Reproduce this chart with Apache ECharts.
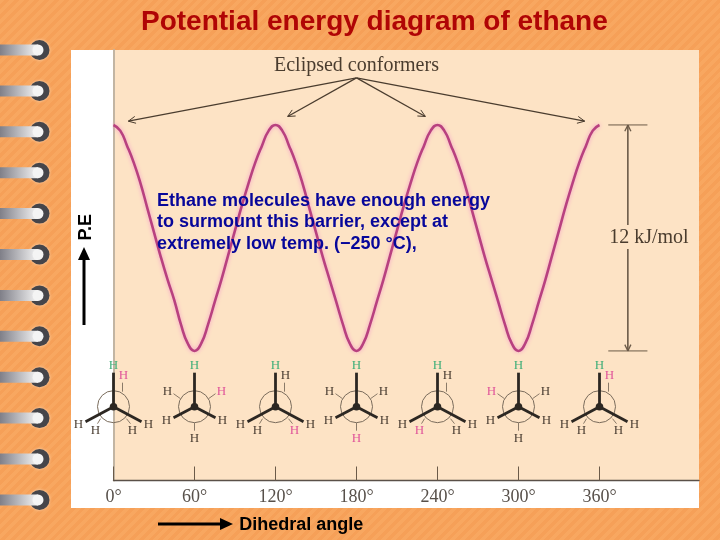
<!DOCTYPE html>
<html><head><meta charset="utf-8">
<style>
html,body{margin:0;padding:0;width:720px;height:540px;overflow:hidden;
background:repeating-linear-gradient(135deg,#f8a760 0,#f8a760 3.5px,#f6a058 3.5px,#f6a058 7px);}
#c{width:720px;height:540px;}
</style>
<script src="https://cdn.jsdelivr.net/npm/echarts@6/dist/echarts.min.js"></script>
</head><body><div id="c"></div>
<script>
// ---- data ----
const angles = [0,5,10,15,20,25,30,35,40,45,50,55,60,65,70,75,80,85,90,95,100,105,110,115,120,125,130,135,140,145,150,155,160,165,170,175,180,185,190,195,200,205,210,215,220,225,230,235,240,245,250,255,260,265,270,275,280,285,290,295,300,305,310,315,320,325,330,335,340,345,350,355,360];
const energy = [12,11.7,10.9,10,8.9,7.6,6.3,5,3.8,2.7,1.4,0.4,0,0.4,1.4,2.6,3.8,5.1,6.4,7.7,8.9,10,10.9,11.7,12,11.7,10.9,10,8.9,7.6,6.3,5,3.8,2.6,1.4,0.4,0,0.4,1.4,2.6,3.8,5.1,6.4,7.7,8.9,10,10.9,11.7,12,11.7,10.9,10,8.9,7.6,6.3,5,3.8,2.6,1.4,0.4,0,0.4,1.4,2.6,3.8,5.1,6.4,7.7,8.9,10,10.9,11.7,12];
const tickAngles = [0,60,120,180,240,300,360];
const conformerAngles = [0,60,120,180,240,300,360];
const conformerEnergy = -2.96;
const pinkBackH = [0,1,2,3,4,5,0];
const eclipsedTargets = [[11,12.2],[129,12.45],[231,12.45],[349,12.2]];
const eclipsedApex = [180,14.5];
const barrier = 12;
const barrierAngle = 381;
const titleText = 'Potential energy diagram of ethane';
const noteText = 'Ethane molecules have enough energy\nto surmount this barrier, except at\nextremely low temp. (\u2212250 \u00b0C),';
const ringCount = 12;

const INK='#4a3c2e', SERIF='"Liberation Serif","DejaVu Serif",serif';

function arrowShape(p,q,head,lw,col,both){
  const out=[{type:'line',shape:{x1:p[0],y1:p[1],x2:q[0],y2:q[1]},style:{stroke:col,lineWidth:lw}}];
  const barbs=(a,b)=>{const t=Math.atan2(a[1]-b[1],a[0]-b[0]);
    [0.45,-0.45].forEach(d=>out.push({type:'line',shape:{x1:b[0],y1:b[1],x2:b[0]+head*Math.cos(t+d),y2:b[1]+head*Math.sin(t+d)},style:{stroke:col,lineWidth:Math.max(1,lw-0.3)}}));};
  barbs(p,q); if(both) barbs(q,p);
  return out;
}

function newman(params,api){
  const angle=api.value(0), c=api.coord([angle,api.value(1)]), pink=api.value(2);
  const eclipsed=pink===0||pink===2||pink===4;
  const kids=[];
  const hLabel=(x,y,col)=>kids.push({type:'text',style:{text:'H',x:c[0]+x,y:c[1]+y,fill:col,align:'center',verticalAlign:'middle',font:'13px '+SERIF}});
  const thin=(x1,y1,x2,y2)=>kids.push({type:'line',shape:{x1:c[0]+x1,y1:c[1]+y1,x2:c[0]+x2,y2:c[1]+y2},style:{stroke:'#8a7a68',lineWidth:1}});
  kids.push({type:'circle',shape:{cx:c[0],cy:c[1],r:16},style:{fill:'none',stroke:'#7a6c5c',lineWidth:1}});
  if(eclipsed){
    const pos=[[10,-31],[19,24],[-18,24]];
    const col=i=>(pink===0&&i===0)||(pink===2&&i===1)||(pink===4&&i===2)?'#e0559a':'#4a3e32';
    pos.forEach((p,i)=>hLabel(p[0],p[1],col(i)));
    thin(9,-15,9,-24); thin(13,12,17,17); thin(-13,12,-16,17);
  }else{
    const pos=[[27,-15,1],[0,32,3],[-27,-15,5]];
    pos.forEach(p=>hLabel(p[0],p[1],p[2]===pink?'#e0559a':'#4a3e32'));
    thin(14,-8,21,-13); thin(0,16,0,24); thin(-14,-8,-21,-13);
  }
  const bx=eclipsed?28:21, by=eclipsed?15:11;
  [[0,-34],[bx,by],[-bx,by]].forEach(e=>kids.push({type:'line',shape:{x1:c[0],y1:c[1],x2:c[0]+e[0],y2:c[1]+e[1]},style:{stroke:'#2c2722',lineWidth:2.8}}));
  kids.push({type:'circle',shape:{cx:c[0],cy:c[1],r:3.8},style:{fill:'#2c2722'}});
  hLabel(0,-41,'#3fae78');
  hLabel(-(bx+7),by+3,'#4a3e32'); hLabel(bx+7,by+3,'#4a3e32');
  return {type:'group',children:kids};
}

function annotations(params,api){
  const kids=[];
  const a=api.coord(eclipsedApex);
  eclipsedTargets.forEach(t=>kids.push(...arrowShape(a,api.coord(t),8,1.2,INK,false)));
  const top=api.coord([barrierAngle,barrier]), bot=api.coord([barrierAngle,0]);
  kids.push(...arrowShape(top,bot,7,1.6,'#6b5a48',true));
  [barrier,0].forEach(v=>{const l=api.coord([barrierAngle-14.5,v]),r=api.coord([barrierAngle+14.5,v]);
    kids.push({type:'line',shape:{x1:l[0],y1:l[1],x2:r[0],y2:r[1]},style:{stroke:'#6b5a48',lineWidth:1}});});
  const mid=api.coord([barrierAngle,barrier*0.5]);
  kids.push({type:'rect',shape:{x:mid[0]-20,y:mid[1]-13,width:40,height:24},style:{fill:'#fde3c5'}});
  kids.push({type:'text',style:{text:'12 kJ/mol',x:mid[0]+21,y:mid[1],fill:INK,align:'center',verticalAlign:'middle',font:'20px '+SERIF}});
  return {type:'group',children:kids};
}

const rings=[];
for(let i=0;i<ringCount;i++){
  const y=50+i*40.9;
  rings.push({type:'circle',z:-1,shape:{cx:39.5,cy:y,r:10},style:{fill:'#45454a',shadowColor:'#fbd8b8',shadowBlur:3}});
  rings.push({type:'rect',z:-1,shape:{x:0,y:y-5.5,width:38,height:11},style:{fill:{type:'linear',x:0,y:0,x2:1,y2:0,colorStops:[{offset:0,color:'#7f7f88'},{offset:1,color:'#f4f4f4'}]}}});
  rings.push({type:'circle',z:-1,shape:{cx:38,cy:y,r:5.5},style:{fill:'#f4f4f4'}});
}

const chart=echarts.init(document.getElementById('c'),null,{renderer:'canvas'});
chart.setOption({
  animation:false,backgroundColor:'transparent',
  title:[
    {text:titleText,left:141,top:8,padding:0,textStyle:{fontFamily:'"Liberation Sans",Arial,sans-serif',fontWeight:'bold',fontSize:28,color:'#b00505'}},
    {text:noteText,left:157,top:190,padding:0,z:8,textStyle:{fontFamily:'"Liberation Sans",Arial,sans-serif',fontWeight:'bold',fontSize:18,lineHeight:21.5,color:'#07079a'}},
    {text:'Eclipsed conformers',left:274,top:56,padding:0,textStyle:{fontFamily:SERIF,fontWeight:'normal',fontSize:20,color:INK}}
  ],
  grid:{left:113.5,right:21,top:50,bottom:59.5,show:true,backgroundColor:'#fde3c5',borderWidth:0},
  xAxis:{type:'value',min:0,max:433.7,
    name:'Dihedral angle',nameLocation:'middle',nameGap:36,
    nameTextStyle:{fontFamily:'"Liberation Sans",Arial,sans-serif',fontWeight:'bold',fontSize:18,color:'#000',padding:[0,210,0,0]},
    axisLine:{show:true,onZero:false,lineStyle:{color:'#5a5048',width:1.4}},
    axisTick:{show:true,inside:true,length:14,customValues:tickAngles,lineStyle:{color:'#6b5a48',width:1}},
    axisLabel:{customValues:tickAngles,margin:8,formatter:v=>v+'\u00b0',fontFamily:SERIF,fontSize:18,color:'#57504a',showMaxLabel:true,showMinLabel:true},
    splitLine:{show:false}},
  yAxis:{type:'value',min:-6.88,max:15.98,
    name:'P.E',nameLocation:'middle',nameRotate:90,nameGap:18.5,
    nameTextStyle:{fontFamily:'"Liberation Sans",Arial,sans-serif',fontWeight:'bold',fontSize:18,color:'#000',padding:[0,0,0,76]},
    axisLine:{show:true,onZero:false,lineStyle:{color:'#c2b5a3',width:2}},
    axisTick:{show:false},axisLabel:{show:false},splitLine:{show:false}},
  graphic:{elements:[
    {type:'rect',z:-2,shape:{x:71,y:50,width:628,height:458},style:{fill:'#fff'}},
    ...rings,
    {type:'line',z:5,shape:{x1:84,y1:325,x2:84,y2:257},style:{stroke:'#000',lineWidth:3}},
    {type:'polygon',z:5,shape:{points:[[84,247],[78,260],[90,260]]},style:{fill:'#000'}},
    {type:'line',z:5,shape:{x1:158,y1:524,x2:222,y2:524},style:{stroke:'#000',lineWidth:3}},
    {type:'polygon',z:5,shape:{points:[[233,524],[220,518],[220,530]]},style:{fill:'#000'}}
  ]},
  series:[
    {type:'line',name:'Potential energy',data:angles.map((a,i)=>[a,energy[i]]),smooth:0.5,symbol:'none',
      lineStyle:{color:'#b8417f',width:2.6,shadowColor:'#f49ac8',shadowBlur:4}},
    {type:'custom',name:'Conformers',coordinateSystem:'cartesian2d',clip:false,renderItem:newman,
      encode:{x:0,y:1},data:conformerAngles.map((a,i)=>[a,conformerEnergy,pinkBackH[i]])},
    {type:'custom',name:'Annotations',coordinateSystem:'cartesian2d',clip:false,renderItem:annotations,
      encode:{x:0,y:1},data:[[barrierAngle,barrier]]}
  ]
});
</script></body></html>
